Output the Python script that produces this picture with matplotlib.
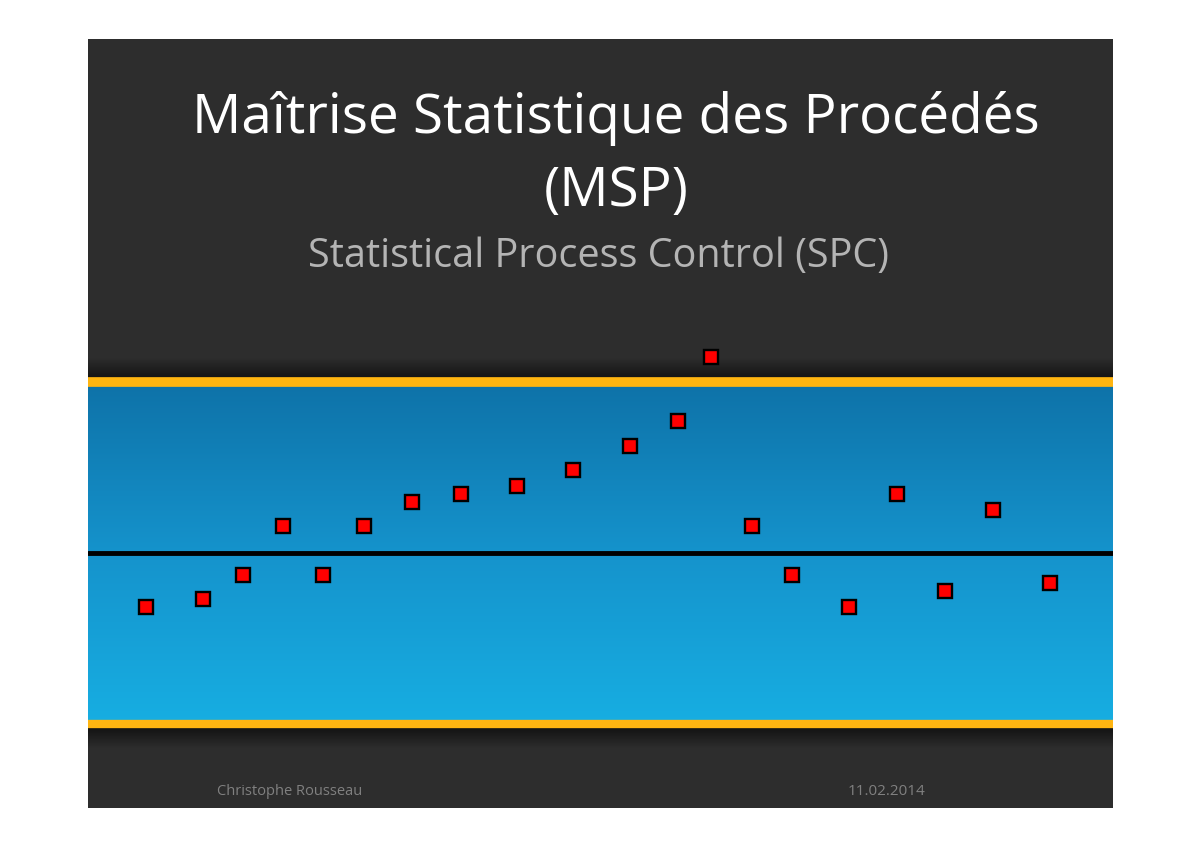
import numpy as np
import matplotlib
matplotlib.use("Agg")
from matplotlib import pyplot as plt
from matplotlib.colors import LinearSegmentedColormap

sample_x = [146, 203, 243, 283, 323, 364, 412, 461, 517, 573,
            630, 678, 711, 752, 792, 849, 897, 945, 993, 1050]
values = [-3.16, -2.69, -1.29, 1.58, -1.29, 1.58, 2.98, 3.45, 3.92, 4.85,
          6.26, 7.72, 11.46, 1.58, -1.29, -3.16, 3.45, -2.22, 2.51, -1.75]
center = 0.0
ucl = 10.0
lcl = -10.0

title1 = "Maîtrise Statistique des Procédés"
title2 = "(MSP)"
subtitle = "Statistical Process Control (SPC)"
author = "Christophe Rousseau"
date = "11.02.2014"

fig = plt.figure(figsize=(12, 8.48), dpi=100)
fig.patch.set_facecolor("white")

W, H = 1200, 848
ax = fig.add_axes([88 / W, (H - 808) / H, (1113 - 88) / W, (808 - 39) / H])
ax.set_facecolor("#2d2d2d")
x0, x1 = 88, 1113
ax.set_xlim(x0, x1)
ax.set_ylim(-14.91, 30.06)
ax.axis("off")
ax.add_patch(plt.Rectangle((0, 0), 1, 1, transform=ax.transAxes,
                           facecolor="#2d2d2d", zorder=0))

# blue band between the control limits
blue = LinearSegmentedColormap.from_list("band", ["#17aee2", "#1593cc", "#0e72a8"])
grad = np.linspace(0, 1, 256).reshape(-1, 1)
ax.imshow(grad, cmap=blue, aspect="auto", origin="lower",
          extent=[x0, x1, lcl, ucl], zorder=1)

# shadows above the upper limit and below the lower limit
shade = LinearSegmentedColormap.from_list("shade", ["#0e0e0e", "#2d2d2d"])
ax.imshow(grad, cmap=shade, aspect="auto", origin="lower",
          extent=[x0, x1, ucl, ucl + 1.4], zorder=1)
ax.imshow(grad[::-1], cmap=shade, aspect="auto", origin="lower",
          extent=[x0, x1, lcl - 1.4, lcl], zorder=1)

ax.axhline(ucl, color="#ffb511", lw=7, zorder=2)
ax.axhline(lcl, color="#ffb511", lw=6, zorder=2)
ax.axhline(center, color="black", lw=3.5, zorder=2)

ax.plot(sample_x, values, ls="none", marker="s", ms=9.5, mfc="#ff0000",
        mec="black", mew=1.7, zorder=3)

fig.text(616 / W, 1 - 133 / H, title1, ha="center", va="baseline",
         color="white", fontsize=39.5, family="Open Sans")
fig.text(616 / W, 1 - 206 / H, title2, ha="center", va="baseline",
         color="white", fontsize=39.5, family="Open Sans")
fig.text(598 / W, 1 - 267 / H, subtitle, ha="center", va="baseline",
         color="#b4b4b4", fontsize=28.5, family="Open Sans")
fig.text(290 / W, 1 - 795 / H, author, ha="center", va="baseline",
         color="#808080", fontsize=10.5, family="Open Sans")
fig.text(887 / W, 1 - 795 / H, date, ha="center", va="baseline",
         color="#808080", fontsize=11, family="Open Sans")

fig.savefig("out.png", dpi=100, facecolor="white")
